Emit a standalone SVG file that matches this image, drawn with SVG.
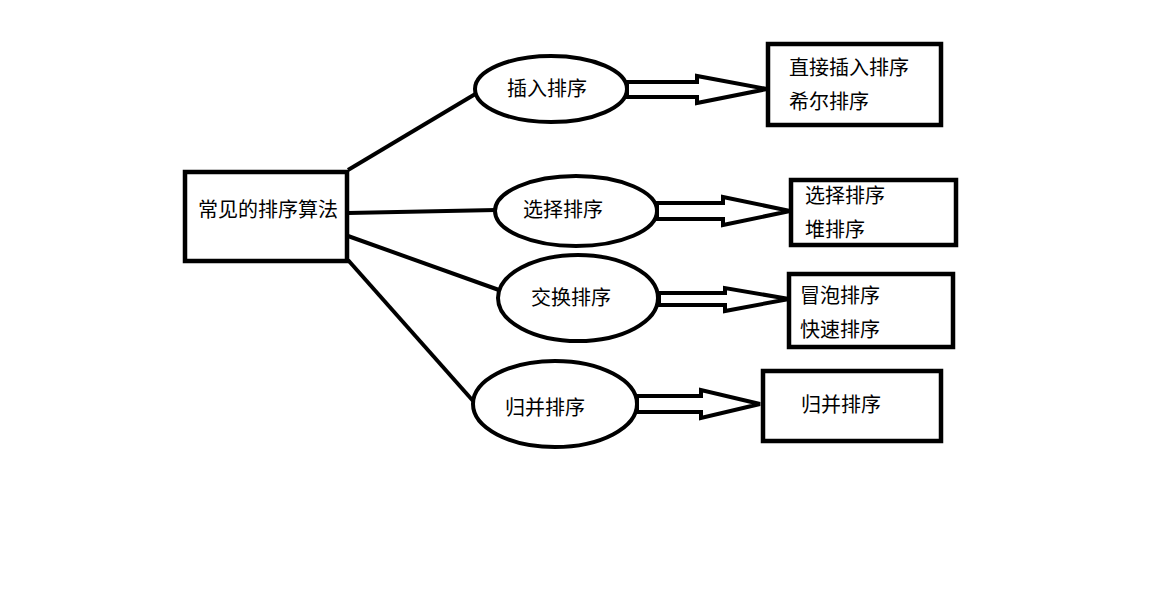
<svg xmlns="http://www.w3.org/2000/svg" width="1152" height="614" viewBox="0 0 1152 614">
<style>
.box{fill:#fff;stroke:#000;stroke-width:4.5}
.ell{fill:#fff;stroke:#000;stroke-width:4}
.arr{fill:#fff;stroke:#000;stroke-width:4;stroke-linejoin:miter}
.ln{stroke:#000;stroke-width:4;fill:none}
text{font-family:"Microsoft YaHei","Noto Sans CJK SC",sans-serif;font-size:20px;fill:#000}
</style>
<rect width="1152" height="614" fill="#fff"/>
<g id="connectors">
<line class="ln" x1="348" y1="170" x2="477" y2="93"/>
<line class="ln" x1="348" y1="213" x2="496" y2="210"/>
<line class="ln" x1="348" y1="236" x2="499" y2="290"/>
<line class="ln" x1="348" y1="260" x2="474" y2="402"/>
<polygon class="arr" points="627,82 697,82 697,76 767,89 697,103 697,97 627,97"/>
<polygon class="arr" points="657,203 723,203 723,197 790,211 723,225 723,219 657,219"/>
<polygon class="arr" points="659,293 725,293 725,288 789,299 725,311 725,305 659,305"/>
<polygon class="arr" points="637,396 701,396 701,390 760,404 701,418 701,412 637,412"/>
</g>
<g id="root">
<rect class="box" x="185" y="172" width="162" height="89"/>
<text x="198" y="217">常见的排序算法</text>
</g>
<g id="insert">
<ellipse class="ell" cx="551" cy="89" rx="76" ry="33"/>
<text x="507" y="96">插入排序</text>
</g>
<g id="select">
<ellipse class="ell" cx="576" cy="211" rx="81" ry="35"/>
<text x="523" y="217">选择排序</text>
</g>
<g id="swap">
<ellipse class="ell" cx="578" cy="298" rx="80" ry="43"/>
<text x="531" y="305">交换排序</text>
</g>
<g id="merge">
<ellipse class="ell" cx="555" cy="404" rx="82" ry="43"/>
<text x="505" y="415">归并排序</text>
</g>
<g id="insert-list">
<rect class="box" x="768" y="44" width="173" height="81"/>
<text x="789" y="75">直接插入排序</text>
<text x="789" y="109">希尔排序</text>
</g>
<g id="select-list">
<rect class="box" x="791" y="180" width="165" height="65"/>
<text x="805" y="203">选择排序</text>
<text x="805" y="237">堆排序</text>
</g>
<g id="swap-list">
<rect class="box" x="789" y="274" width="164" height="73"/>
<text x="800" y="303">冒泡排序</text>
<text x="800" y="337">快速排序</text>
</g>
<g id="merge-list">
<rect class="box" x="763" y="371" width="178" height="70"/>
<text x="801" y="412">归并排序</text>
</g>
</svg>
